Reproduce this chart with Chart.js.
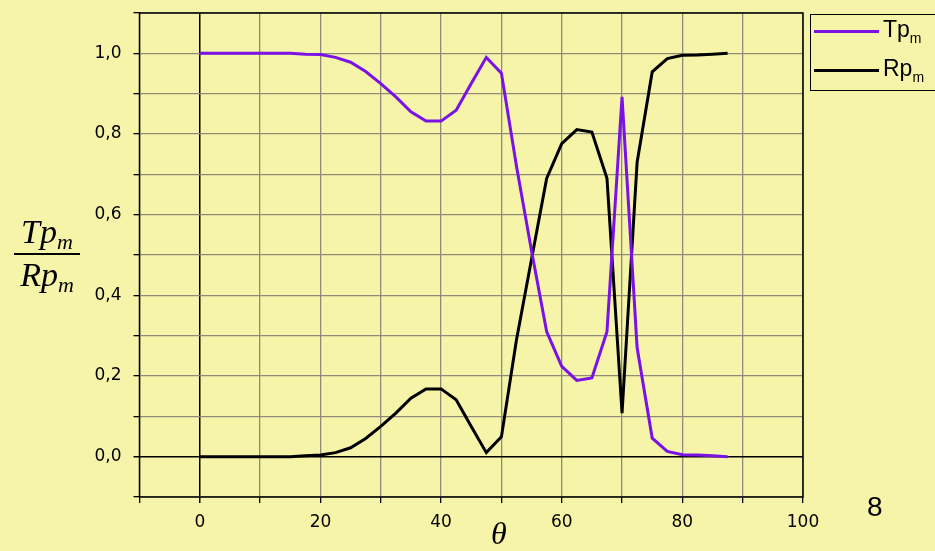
<!DOCTYPE html>
<html>
<head>
<meta charset="utf-8">
<script src="https://cdn.jsdelivr.net/npm/chart.js@4/dist/chart.umd.min.js"></script>
<style>
    html, body { margin: 0; padding: 0; }
    body { width: 935px; height: 551px; background: #f6f4a9; position: relative; overflow: hidden; font-family: "Liberation Sans", Arial, sans-serif; }
    #wrap { position: absolute; left: 0; top: 0; width: 935px; height: 551px; }
    .legend { position: absolute; left: 810px; top: 14px; width: 140px; height: 77px; border: 1px solid #000; box-sizing: border-box; }
    .legend .row { position: absolute; left: 3px; height: 26px; }
    .legend .swatch { position: absolute; left: 0; top: 13px; width: 65px; height: 3px; }
    .legend .txt { position: absolute; left: 69px; top: -1px; font-size: 23px; color: #000; white-space: nowrap; }
    .legend sub { font-size: 14px; vertical-align: -6px; }
    .ylab { position: absolute; left: 14px; top: 212px; width: 66px; font-family: "Liberation Serif", "Times New Roman", serif; font-style: italic; font-size: 34px; text-align: center; }
    .ylab .num { border-bottom: 2px solid #000; line-height: 40px; height: 41px; }
    .ylab .den { line-height: 40px; }
    .ylab sub { font-size: 22px; vertical-align: -6px; }
    .theta { position: absolute; left: 491px; top: 515px; font-family: "Liberation Serif", "Times New Roman", serif; font-style: italic; font-size: 32px; }
    .page { position: absolute; left: 867px; top: 491px; font-size: 28px; }
</style>
</head>
<body>
<div id="wrap"><canvas id="tpChart" width="935" height="551"></canvas></div>
<div class="legend">
    <div class="row" style="top:2px"><div class="swatch" style="background:#7a12e6"></div><div class="txt">Tp<sub>m</sub></div></div>
    <div class="row" style="top:41px"><div class="swatch" style="background:#000"></div><div class="txt">Rp<sub>m</sub></div></div>
</div>
<div class="ylab"><div class="num">Tp<sub>m</sub></div><div class="den">Rp<sub>m</sub></div></div>
<div class="theta">θ</div>
<div class="page">8</div>
<script>
// angulo (grados)
const theta = [0, 2.5, 5, 7.5, 10, 12.5, 15, 17.5, 20, 22.5, 25, 27.5, 30, 32.5, 35, 37.5, 40, 42.5, 45, 47.5,
    50, 52.5, 55, 57.5, 60, 62.5, 65, 67.5, 70, 72.5, 75, 77.5, 80, 82.5, 85, 87.5];
const tpValues = [1, 1, 1, 1, 1, 1, 1, 0.998, 0.997, 0.99, 0.978, 0.955, 0.925, 0.892, 0.855, 0.832, 0.832, 0.859, 0.925, 0.99,
    0.951, 0.72, 0.51, 0.31, 0.224, 0.189, 0.195, 0.31, 0.892, 0.27, 0.046, 0.013, 0.005, 0.004, 0.002, 0.0];
const rpValues = [0, 0, 0, 0, 0, 0, 0, 0.002, 0.004, 0.01, 0.022, 0.045, 0.075, 0.108, 0.145, 0.168, 0.168, 0.141, 0.075, 0.01,
    0.049, 0.29, 0.49, 0.69, 0.776, 0.811, 0.805, 0.69, 0.108, 0.73, 0.954, 0.987, 0.995, 0.996, 0.998, 1.0];
const xTicks = [0, 20, 40, 60, 80, 100];
const yTicks = [0, 0.2, 0.4, 0.6, 0.8, 1.0];

function toPoints(ys) {
    return theta.map((t, i) => ({ x: t, y: ys[i] }));
}

// borde negro del area del grafico
const frame = {
    id: "frame",
    afterDraw(chart) {
        const a = chart.chartArea, c = chart.ctx;
        c.save();
        c.strokeStyle = "#000";
        c.lineWidth = 1.5;
        c.strokeRect(a.left, a.top, a.right - a.left, a.bottom - a.top);
        c.restore();
    }
};

const gridColor = "#8e8c78";

new Chart(document.getElementById("tpChart").getContext("2d"), {
    type: "scatter",
    data: {
        datasets: [
            { label: "Tp", data: toPoints(tpValues), showLine: true, borderColor: "#7a12e6", borderWidth: 3, pointRadius: 0, tension: 0 },
            { label: "Rp", data: toPoints(rpValues), showLine: true, borderColor: "#000", borderWidth: 3, pointRadius: 0, tension: 0 }
        ]
    },
    plugins: [frame],
    options: {
        responsive: false,
        animation: false,
        layout: { padding: { left: 0, top: 13, right: 132, bottom: 0 } },
        plugins: { legend: { display: false }, tooltip: { enabled: false } },
        scales: {
            x: {
                type: "linear", min: -10, max: 100,
                afterFit: s => { s.height = 54; },
                border: { display: false },
                grid: {
                    color: c => c.tick && c.tick.value === 0 ? "#000" : gridColor,
                    lineWidth: c => c.tick && c.tick.value === 0 ? 1.5 : 1.3,
                    tickColor: "#000", tickLength: 6
                },
                ticks: {
                    stepSize: 10, padding: 9, color: "#000",
                    font: { family: "DejaVu Sans", size: 17 },
                    callback: v => xTicks.includes(v) ? String(v) : ""
                }
            },
            y: {
                min: -0.1, max: 1.1,
                afterFit: s => { s.width = 139.5; },
                border: { display: false },
                grid: {
                    color: c => c.tick && Math.abs(c.tick.value) < 1e-9 ? "#000" : gridColor,
                    lineWidth: c => c.tick && Math.abs(c.tick.value) < 1e-9 ? 1.5 : 1.3,
                    tickColor: "#000", tickLength: 6
                },
                ticks: {
                    stepSize: 0.1, padding: 12, color: "#000",
                    font: { family: "DejaVu Sans", size: 17, lineHeight: 0.1 },
                    callback: v => {
                        const r = Math.round(v * 10) / 10;
                        return yTicks.some(t => Math.abs(t - r) < 1e-9) ? r.toFixed(1).replace(".", ",") : "";
                    }
                }
            }
        }
    }
});
</script>
</body>
</html>
